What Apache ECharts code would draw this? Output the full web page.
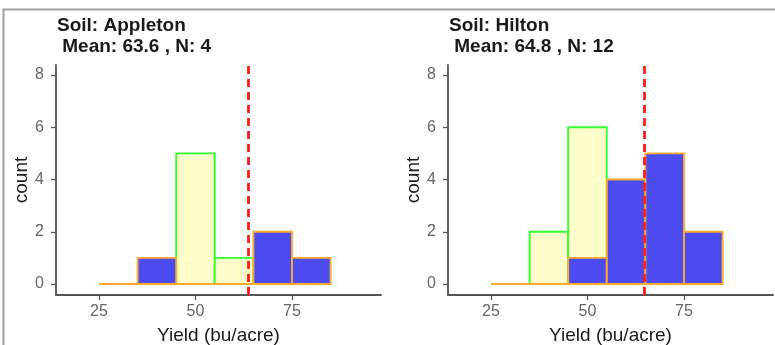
<!DOCTYPE html>
<html>
<head>
<meta charset="utf-8">
<script src="https://cdn.jsdelivr.net/npm/echarts@6/dist/echarts.min.js"></script>
<style>
html,body{margin:0;padding:0;background:#fff;}
#chart{width:775px;height:345px;}
</style>
</head>
<body>
<div id="chart"></div>
<script>
// ---- data ----
const binCenters = [30, 40, 50, 60, 70, 80];
const binWidth = 10;
const appletonYellow = [0, 0, 5, 1, 0, 0];
const appletonBlue = [0, 1, 0, 0, 2, 1];
const hiltonYellow = [0, 2, 6, 0, 0, 0];
const hiltonBlue = [0, 0, 1, 4, 5, 2];
const appletonMean = 63.6;
const hiltonMean = 64.8;
const titles = ['Soil: Appleton\n Mean: 63.6 , N: 4', 'Soil: Hilton\n Mean: 64.8 , N: 12'];
const xTicks = [25, 50, 75];
const yTicks = [0, 2, 4, 6, 8];

const FONT = '"Liberation Sans", Arial, sans-serif';

function histData(vals) {
  return binCenters.map((c, i) => [c, vals[i]]);
}
function renderBin(fill, stroke) {
  return function (params, api) {
    const c = api.value(0), v = api.value(1);
    const p0 = api.coord([c - binWidth / 2, 0]);
    const p1 = api.coord([c + binWidth / 2, v]);
    return {
      type: 'rect',
      shape: { x: p0[0], y: p1[1], width: p1[0] - p0[0], height: p0[1] - p1[1] },
      style: { fill: fill, stroke: stroke, lineWidth: 1.9 }
    };
  };
}

const grids = [
  { left: 56, top: 65, width: 325, height: 230, outerBoundsMode: 'none', containLabel: false },
  { left: 448, top: 65, width: 325, height: 230, outerBoundsMode: 'none', containLabel: false }
];

const xAxes = grids.map((g, i) => ({
  type: 'value', gridIndex: i, min: 13.86, max: 98.06,
  name: 'Yield (bu/acre)', nameLocation: 'middle', nameGap: 31,
  nameTextStyle: { fontFamily: FONT, fontSize: 19, color: '#1a1a1a' },
  splitLine: { show: false },
  axisLine: { onZero: false, lineStyle: { color: '#555', width: 1.8 } },
  axisTick: { customValues: xTicks, length: 5, lineStyle: { color: '#555', width: 1.3 } },
  axisLabel: { customValues: xTicks, fontFamily: FONT, fontSize: 16, color: '#666', margin: 9 }
}));
const yAxes = grids.map((g, i) => ({
  type: 'value', gridIndex: i, min: -0.42, max: 8.38,
  name: 'count', nameLocation: 'middle', nameGap: 22, nameRotate: 90,
  nameTextStyle: { fontFamily: FONT, fontSize: 19, color: '#1a1a1a' },
  splitLine: { show: false },
  axisLine: { onZero: false, lineStyle: { color: '#555', width: 1.8 } },
  axisTick: { customValues: yTicks, length: 5, lineStyle: { color: '#555', width: 1.3 } },
  axisLabel: { customValues: yTicks, fontFamily: FONT, fontSize: 16, color: '#666', margin: 12 }
}));

function panelSeries(idx, yellow, blue, mean) {
  return [
    { type: 'custom', xAxisIndex: idx, yAxisIndex: idx, data: histData(yellow),
      renderItem: renderBin('#ffffcc', '#33ff33'), silent: true },
    { type: 'custom', xAxisIndex: idx, yAxisIndex: idx, data: histData(blue),
      renderItem: renderBin('#4b4bf0', '#ffaa2a'), silent: true,
      markLine: { silent: true, symbol: ['none', 'none'], label: { show: false },
        lineStyle: { color: '#ff1a1a', type: [8, 5], width: 2.8 },
        data: [{ xAxis: mean }] } }
  ];
}

const chart = echarts.init(document.getElementById('chart'), null, { renderer: 'canvas' });
chart.setOption({
  animation: false,
  backgroundColor: '#fff',
  title: [
    { text: titles[0], left: 57, top: 15, padding: 0, textStyle: { fontFamily: FONT, fontSize: 19, fontWeight: 'bold', color: '#1a1a1a', lineHeight: 21 } },
    { text: titles[1], left: 449, top: 15, padding: 0, textStyle: { fontFamily: FONT, fontSize: 19, fontWeight: 'bold', color: '#1a1a1a', lineHeight: 21 } }
  ],
  graphic: [
    { type: 'polyline', shape: { points: [[3.5, 345], [3.5, 9.5], [775, 9.5]] }, style: { stroke: '#a0a0a0', lineWidth: 2, fill: null }, silent: true }
  ],
  grid: grids,
  xAxis: xAxes,
  yAxis: yAxes,
  series: [].concat(
    panelSeries(0, appletonYellow, appletonBlue, appletonMean),
    panelSeries(1, hiltonYellow, hiltonBlue, hiltonMean)
  )
});
</script>
</body>
</html>
